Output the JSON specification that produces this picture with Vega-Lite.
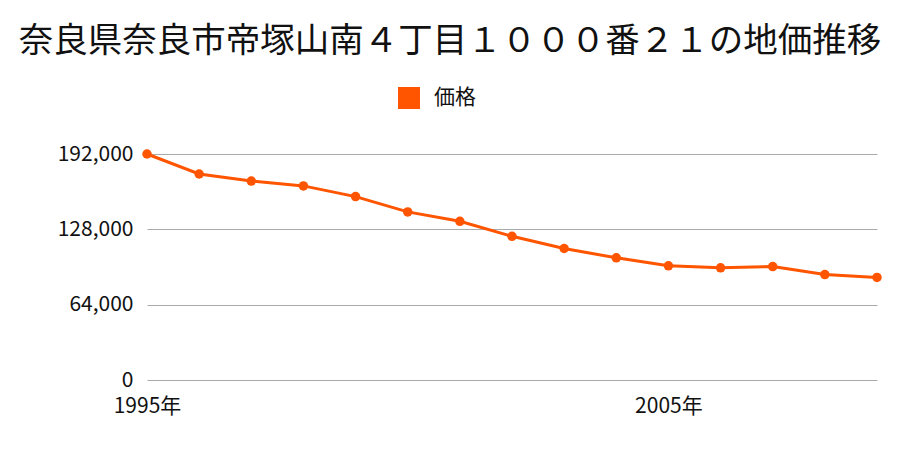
{
  "$schema": "https://vega.github.io/schema/vega-lite/v6.json",
  "autosize": {"type": "none"},
  "width": 730,
  "height": 226,
  "padding": {"left": 147, "top": 154, "right": 23, "bottom": 70},
  "background": "white",
  "config": {
    "font": "Noto Sans CJK JP",
    "view": {"stroke": null}
  },
  "title": {
    "text": "奈良県奈良市帝塚山南４丁目１０００番２１の地価推移",
    "fontSize": 34.5,
    "fontWeight": "normal",
    "color": "#111111",
    "anchor": "middle",
    "dx": -62,
    "offset": 28
  },
  "data": {
    "values": [
      {"year": 1995, "price": 192000},
      {"year": 1996, "price": 175000},
      {"year": 1997, "price": 169000},
      {"year": 1998, "price": 164900},
      {"year": 1999, "price": 155800},
      {"year": 2000, "price": 142800},
      {"year": 2001, "price": 134800},
      {"year": 2002, "price": 122100},
      {"year": 2003, "price": 111700},
      {"year": 2004, "price": 103800},
      {"year": 2005, "price": 97000},
      {"year": 2006, "price": 95300},
      {"year": 2007, "price": 96400},
      {"year": 2008, "price": 89600},
      {"year": 2009, "price": 87100}
    ]
  },
  "encoding": {
    "x": {
      "field": "year",
      "type": "quantitative",
      "scale": {"domain": [1995, 2009], "nice": false, "zero": false},
      "axis": {
        "title": null,
        "values": [1995, 2005],
        "labelExpr": "datum.value + '年'",
        "grid": false,
        "domain": false,
        "ticks": false,
        "labelFontSize": 21,
        "labelColor": "#111111",
        "labelPadding": 15,
        "labelFlush": false
      }
    },
    "y": {
      "field": "price",
      "type": "quantitative",
      "scale": {"domain": [0, 192000], "nice": false},
      "axis": {
        "title": null,
        "values": [0, 64000, 128000, 192000],
        "labelExpr": "format(datum.value, ',d')",
        "grid": true,
        "gridColor": "#aaaaaa",
        "gridWidth": 1,
        "domain": false,
        "ticks": false,
        "labelFontSize": 21,
        "labelColor": "#111111",
        "labelPadding": 14
      }
    },
    "color": {
      "datum": "価格",
      "type": "nominal",
      "scale": {"range": ["#ff5500"]},
      "legend": {
        "title": null,
        "orient": "none",
        "legendX": 251,
        "legendY": -67,
        "symbolType": "square",
        "symbolSize": 484,
        "symbolStrokeWidth": 0,
        "symbolOpacity": 1,
        "labelFontSize": 21,
        "labelColor": "#111111",
        "labelOffset": 14
      }
    }
  },
  "layer": [
    {"mark": {"type": "line", "strokeWidth": 3}},
    {"mark": {"type": "point", "filled": true, "size": 90, "opacity": 1}}
  ]
}
